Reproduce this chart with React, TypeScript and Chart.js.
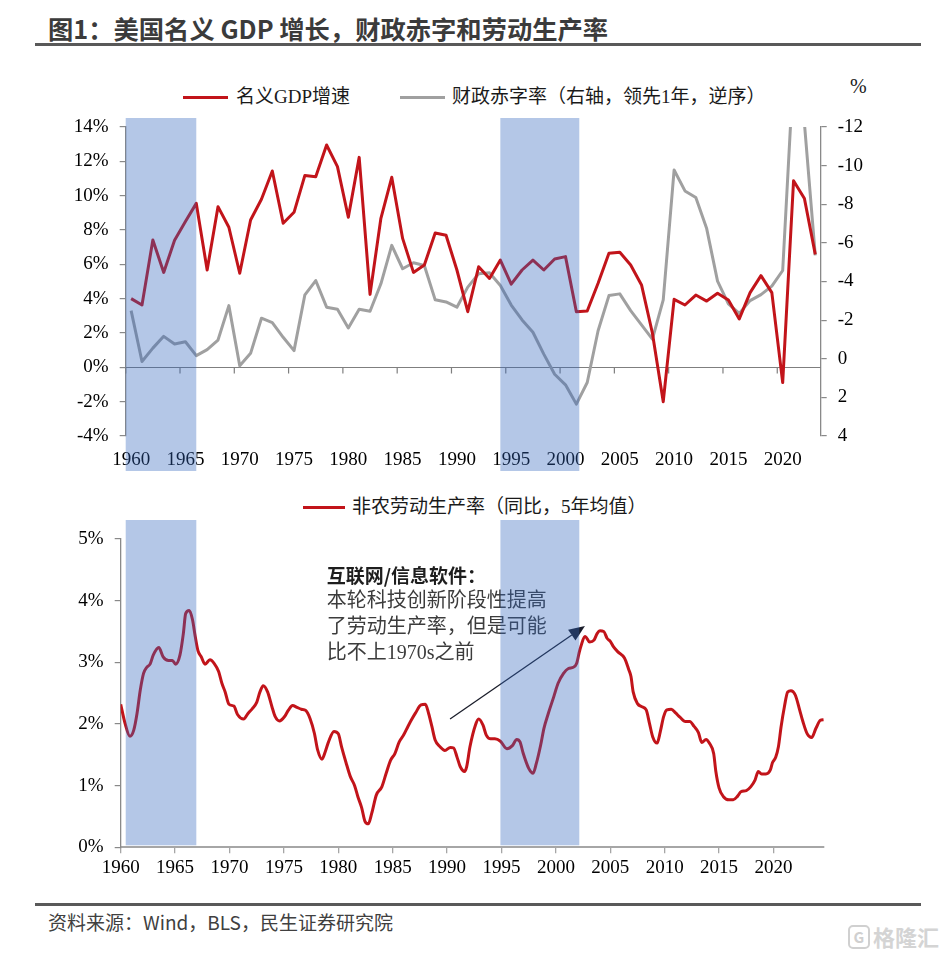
import React, { useEffect, useRef } from 'react';
import { Chart, registerables } from 'chart.js';

Chart.register(...registerables);

// ---------- data ----------
const years = [
  1960, 1961, 1962, 1963, 1964, 1965, 1966, 1967, 1968, 1969,
  1970, 1971, 1972, 1973, 1974, 1975, 1976, 1977, 1978, 1979,
  1980, 1981, 1982, 1983, 1984, 1985, 1986, 1987, 1988, 1989,
  1990, 1991, 1992, 1993, 1994, 1995, 1996, 1997, 1998, 1999,
  2000, 2001, 2002, 2003, 2004, 2005, 2006, 2007, 2008, 2009,
  2010, 2011, 2012, 2013, 2014, 2015, 2016, 2017, 2018, 2019,
  2020, 2021, 2022, 2023,
];

// 名义GDP增速 (%)
const nominalGdpGrowth = [
  4.0, 3.63, 7.42, 5.53, 7.4, 8.49, 9.55, 5.67, 9.36, 8.16,
  5.48, 8.58, 9.79, 11.44, 8.39, 9.03, 11.18, 11.1, 12.95, 11.69,
  8.74, 12.23, 4.25, 8.68, 11.07, 7.51, 5.53, 5.96, 7.83, 7.69,
  5.67, 3.24, 5.86, 5.18, 6.25, 4.85, 5.67, 6.25, 5.67, 6.31,
  6.45, 3.24, 3.28, 4.9, 6.64, 6.7, 5.96, 4.8, 2.0, -2.0,
  3.96, 3.63, 4.21, 3.86, 4.31, 3.92, 2.82, 4.35, 5.34, 4.35,
  -0.89, 10.87, 9.84, 6.58,
];

// 财政赤字率（右轴，领先1年，逆序）
const fiscalBalance = [
  -2.49, 0.14, -0.55, -1.16, -0.76, -0.88, -0.16, -0.47, -0.97, -2.75,
  0.36, -0.28, -2.1, -1.87, -1.11, -0.42, -3.31, -4.05, -2.67, -2.56,
  -1.59, -2.56, -2.46, -3.88, -5.87, -4.66, -4.97, -4.83, -3.05, -2.94,
  -2.67, -3.71, -4.4, -4.45, -3.79, -2.78, -2.01, -1.37, -0.24, 0.8,
  1.35, 2.35, 1.23, -1.45, -3.27, -3.36, -2.49, -1.75, -1.02, -3.05,
  -9.77, -8.69, -8.35, -6.74, -4.02, -2.84, -2.35, -3.01, -3.32, -3.76,
  -4.57, -15.0, -12.2, -5.35,
];

// 非农劳动生产率（同比，5年均值）
const prodDates = [
  1960.0, 1960.4, 1960.85, 1961.2, 1961.5, 1961.8, 1962.1, 1962.4, 1962.7, 1963.0,
  1963.5, 1963.9, 1964.4, 1964.75, 1965.05, 1965.45, 1965.76, 1965.97, 1966.3, 1966.6,
  1966.85, 1967.1, 1967.4, 1967.75, 1968.2, 1968.6, 1969.0, 1969.3, 1969.6, 1969.95,
  1970.4, 1970.75, 1971.3, 1971.7, 1972.1, 1972.5, 1972.8, 1973.1, 1973.5, 1973.9,
  1974.2, 1974.6, 1975.1, 1975.4, 1975.8, 1976.2, 1976.6, 1977.0, 1977.4, 1977.8,
  1978.1, 1978.5, 1978.8, 1979.1, 1979.6, 1980.0, 1980.3, 1980.7, 1981.1, 1981.5,
  1981.8, 1982.15, 1982.45, 1982.76, 1983.07, 1983.5, 1984.0, 1984.4, 1984.8, 1985.2,
  1985.6, 1986.0, 1986.4, 1986.7, 1987.1, 1987.6, 1988.0, 1988.3, 1988.6, 1988.9,
  1989.35, 1989.8, 1990.3, 1990.6, 1990.9, 1991.2, 1991.6, 1991.8, 1992.1, 1992.6,
  1992.9, 1993.3, 1993.6, 1994.0, 1994.4, 1994.9, 1995.5, 1996.0, 1996.4, 1996.7,
  1997.0, 1997.5, 1997.9, 1998.2, 1998.6, 1998.9, 1999.3, 1999.8, 2000.2, 2000.7,
  2001.15, 2001.6, 2001.9, 2002.2, 2002.7, 2003.1, 2003.5, 2003.8, 2004.05, 2004.4,
  2004.7, 2005.0, 2005.3, 2005.7, 2006.3, 2006.7, 2006.9, 2007.1, 2007.5, 2007.9,
  2008.3, 2008.6, 2008.9, 2009.3, 2009.6, 2009.9, 2010.2, 2010.6, 2011.0, 2011.4,
  2011.9, 2012.3, 2012.7, 2013.1, 2013.4, 2013.8, 2014.1, 2014.5, 2014.7, 2015.0,
  2015.4, 2015.9, 2016.3, 2016.7, 2017.0, 2017.5, 2017.9, 2018.3, 2018.6, 2018.9,
  2019.3, 2019.7, 2019.9, 2020.2, 2020.45, 2020.7, 2021.0, 2021.3, 2021.6, 2022.0,
  2022.4, 2022.7, 2023.1, 2023.5, 2023.9, 2024.3, 2024.6,
];
const prodValues = [
  2.32, 2.01, 1.8, 1.9, 2.17, 2.55, 2.82, 2.92, 2.97, 3.12,
  3.24, 3.09, 3.03, 3.03, 2.97, 3.12, 3.47, 3.79, 3.84, 3.69,
  3.42, 3.19, 3.09, 2.97, 3.04, 2.98, 2.85, 2.66, 2.52, 2.32,
  2.29, 2.15, 2.08, 2.17, 2.25, 2.35, 2.52, 2.62, 2.52, 2.28,
  2.12, 2.05, 2.13, 2.22, 2.3, 2.27, 2.24, 2.22, 2.09, 1.85,
  1.58, 1.43, 1.55, 1.71, 1.88, 1.84, 1.63, 1.38, 1.15, 1.0,
  0.82, 0.64, 0.42, 0.38, 0.55, 0.85, 0.98, 1.2, 1.41, 1.52,
  1.71, 1.82, 1.96, 2.06, 2.18, 2.31, 2.32, 2.17, 1.96, 1.74,
  1.63, 1.57, 1.62, 1.61, 1.47, 1.31, 1.23, 1.31, 1.63, 1.98,
  2.08, 1.98, 1.82, 1.76, 1.76, 1.72, 1.6, 1.65, 1.75, 1.71,
  1.52, 1.28, 1.2, 1.36, 1.66, 1.93, 2.17, 2.44, 2.66, 2.82,
  2.9, 2.92, 2.98, 3.2, 3.42, 3.33, 3.36, 3.47, 3.51, 3.5,
  3.39, 3.34, 3.25, 3.17, 3.07, 2.88, 2.77, 2.52, 2.33, 2.28,
  2.23, 2.01, 1.79, 1.69, 1.88, 2.12, 2.23, 2.24, 2.18, 2.11,
  2.04, 2.04, 1.96, 1.86, 1.7, 1.75, 1.69, 1.52, 1.23, 0.96,
  0.82, 0.77, 0.77, 0.83, 0.9, 0.92, 0.98, 1.09, 1.23, 1.19,
  1.19, 1.25, 1.37, 1.46, 1.63, 1.96, 2.28, 2.52, 2.54, 2.47,
  2.23, 2.04, 1.84, 1.78, 1.93, 2.06, 2.07,
];

const xTickYears = [1960, 1965, 1970, 1975, 1980, 1985, 1990, 1995, 2000, 2005, 2010, 2015, 2020];

// shaded periods (technology waves)
const topBands = [[1959.5, 1966.0], [1994.0, 2001.27]];
const bottomBands = [[1960.46, 1966.95], [1994.9, 2002.15]];

const annotationLines = ['本轮科技创新阶段性提高', '了劳动生产率，但是可能', '比不上1970s之前'];
const annotationTitle = '互联网/信息软件：';
const annotationAt = { x: 1978.93, y: 4.4 };
const arrowFrom = { x: 1990.27, y: 2.08 };
const arrowTo = { x: 2002.67, y: 3.59 };

// ---------- styles ----------
const RED = '#C2141A';
const GRAY = '#A0A0A0';
const AXIS = '#898989';
const BAND = 'rgba(49,101,189,0.365)';
const SERIF = "'Liberation Serif', 'Noto Sans CJK SC', serif";
const CJK = "'Noto Sans CJK SC', 'Noto Sans', sans-serif";
const tickFont = { family: SERIF, size: 19 };

const bandPlugin = (id: string, bands: number[][], topExtra: number, bottomExtra: number) => ({
  id,
  afterDraw(chart: any) {
    const { ctx, chartArea, scales } = chart;
    const xs = scales.x;
    ctx.save();
    ctx.fillStyle = BAND;
    const top = chartArea.top - topExtra;
    const bottom = chartArea.bottom + bottomExtra;
    for (const [a, b] of bands) {
      const x1 = xs.getPixelForValue(a);
      const x2 = xs.getPixelForValue(b);
      ctx.fillRect(x1, top, x2 - x1, bottom - top);
    }
    ctx.restore();
  },
});

const zeroLinePlugin = {
  id: 'zeroLine',
  beforeDatasetsDraw(chart: any) {
    const { ctx, chartArea, scales } = chart;
    const y0 = Math.round(scales.y.getPixelForValue(0)) + 0.5;
    ctx.save();
    ctx.strokeStyle = '#7F7F7F';
    ctx.lineWidth = 1.2;
    ctx.beginPath();
    ctx.moveTo(chartArea.left, y0);
    ctx.lineTo(chartArea.right, y0);
    for (const t of xTickYears) {
      const x = scales.x.getPixelForValue(t - 0.5);
      ctx.moveTo(x, y0);
      ctx.lineTo(x, y0 + 6);
    }
    ctx.stroke();
    ctx.restore();
  },
};

const annotationPlugin = {
  id: 'annot',
  afterDatasetsDraw(chart: any) {
    const { ctx, scales } = chart;
    const xs = scales.x;
    const ys = scales.y;
    ctx.save();
    const tx = xs.getPixelForValue(annotationAt.x);
    const ty = ys.getPixelForValue(annotationAt.y);
    ctx.textBaseline = 'middle';
    ctx.textAlign = 'left';
    ctx.fillStyle = '#1E1E1E';
    ctx.font = `bold 19px ${CJK}`;
    ctx.fillText(annotationTitle, tx, ty);
    ctx.fillStyle = '#3C3C3C';
    ctx.font = `20px ${SERIF}`;
    annotationLines.forEach((l, i) => ctx.fillText(l, tx, ty + 26 * (i + 1)));
    // arrow
    const x1 = xs.getPixelForValue(arrowFrom.x);
    const y1 = ys.getPixelForValue(arrowFrom.y);
    const x2 = xs.getPixelForValue(arrowTo.x);
    const y2 = ys.getPixelForValue(arrowTo.y);
    const ang = Math.atan2(y2 - y1, x2 - x1);
    const hl = 16;
    const hw = 6.5;
    const bx = x2 - hl * Math.cos(ang);
    const by = y2 - hl * Math.sin(ang);
    ctx.strokeStyle = '#1A1D2A';
    ctx.lineWidth = 1.3;
    ctx.beginPath();
    ctx.moveTo(x1, y1);
    ctx.lineTo(bx, by);
    ctx.stroke();
    ctx.fillStyle = '#1A1D2A';
    ctx.beginPath();
    ctx.moveTo(x2, y2);
    ctx.lineTo(bx + hw * Math.sin(ang), by - hw * Math.cos(ang));
    ctx.lineTo(bx - hw * Math.sin(ang), by + hw * Math.cos(ang));
    ctx.closePath();
    ctx.fill();
    ctx.restore();
  },
};

const abs = (o: any) => ({ position: 'absolute' as const, margin: 0, whiteSpace: 'nowrap' as const, ...o });

export default function App() {
  const topRef = useRef<HTMLCanvasElement>(null);
  const botRef = useRef<HTMLCanvasElement>(null);

  useEffect(() => {
    const topChart = new Chart(topRef.current as HTMLCanvasElement, {
      type: 'line',
      data: {
        datasets: [
          {
            label: '名义GDP增速',
            data: years.map((y, i) => ({ x: y, y: nominalGdpGrowth[i] })),
            borderColor: RED,
            borderWidth: 3,
            pointRadius: 0,
            tension: 0,
            yAxisID: 'y',
            borderJoinStyle: 'round',
          },
          {
            label: '财政赤字率（右轴，领先1年，逆序）',
            data: years.map((y, i) => ({ x: y, y: fiscalBalance[i] })),
            borderColor: GRAY,
            borderWidth: 3,
            pointRadius: 0,
            tension: 0,
            yAxisID: 'y2',
            borderJoinStyle: 'round',
          },
        ],
      },
      options: {
        animation: false,
        responsive: false,
        devicePixelRatio: 1,
        layout: { padding: { top: 27, left: 0, right: 0, bottom: 0 } },
        plugins: { legend: { display: false }, tooltip: { enabled: false } },
        scales: {
          x: {
            type: 'linear',
            min: 1959.5,
            max: 2023.5,
            afterBuildTicks: (s: any) => { s.ticks = xTickYears.map((v) => ({ value: v })); },
            afterFit: (s: any) => { s.height = 44; },
            grid: { display: false, drawTicks: false },
            border: { display: false },
            ticks: { padding: 13, font: tickFont, color: '#000', maxRotation: 0, autoSkip: false, callback: (v: any) => String(v) },
          },
          y: {
            position: 'left',
            min: -4,
            max: 14,
            afterFit: (s: any) => { s.width = 125.7; },
            grid: { drawOnChartArea: false, tickLength: 6, color: AXIS, lineWidth: 1.2 },
            border: { color: AXIS, width: 1.3 },
            ticks: { stepSize: 2, padding: 11, font: tickFont, color: '#000', callback: (v: any) => `${v}%` },
          },
          y2: {
            position: 'right',
            reverse: true,
            min: -12,
            max: 4,
            afterFit: (s: any) => { s.width = 123.3; },
            grid: { drawOnChartArea: false, tickLength: 6, color: AXIS, lineWidth: 1.2 },
            border: { color: AXIS, width: 1.3 },
            ticks: { stepSize: 2, padding: 11, font: tickFont, color: '#000', callback: (v: any) => String(v) },
          },
        },
      },
      plugins: [zeroLinePlugin, bandPlugin('topBands', topBands, 9, 35)],
    } as any);

    const botChart = new Chart(botRef.current as HTMLCanvasElement, {
      type: 'line',
      data: {
        datasets: [
          {
            label: '非农劳动生产率（同比，5年均值）',
            data: prodDates.map((d, i) => ({ x: d, y: prodValues[i] })),
            borderColor: RED,
            borderWidth: 3,
            pointRadius: 0,
            cubicInterpolationMode: 'monotone',
            borderJoinStyle: 'round',
          },
        ],
      },
      options: {
        animation: false,
        responsive: false,
        devicePixelRatio: 1,
        layout: { padding: { top: 39, left: 0, right: 120, bottom: 0 } },
        plugins: { legend: { display: false }, tooltip: { enabled: false } },
        scales: {
          x: {
            type: 'linear',
            min: 1960,
            max: 2024.64,
            afterBuildTicks: (s: any) => { s.ticks = xTickYears.map((v) => ({ value: v })); },
            afterFit: (s: any) => { s.height = 52.7; },
            grid: { display: true, drawOnChartArea: false, drawTicks: true, tickLength: 6, color: '#A6A6A6', lineWidth: 1.3 },
            border: { color: '#A6A6A6', width: 2 },
            ticks: { padding: 3, font: tickFont, color: '#000', maxRotation: 0, autoSkip: false, callback: (v: any) => String(v) },
          },
          y: {
            min: 0,
            max: 5,
            afterFit: (s: any) => { s.width = 120.7; },
            grid: { drawOnChartArea: false, tickLength: 6, color: AXIS, lineWidth: 1.2 },
            border: { color: AXIS, width: 1.3 },
            ticks: { stepSize: 1, padding: 11, font: tickFont, color: '#000', callback: (v: any) => `${v}%` },
          },
        },
      },
      plugins: [annotationPlugin, bandPlugin('botBands', bottomBands, 19, -2)],
    } as any);

    return () => {
      topChart.destroy();
      botChart.destroy();
    };
  }, []);

  const legendText = { fontFamily: SERIF, fontSize: 19, lineHeight: '24px', color: '#1a1a1a' };

  return (
    <div style={{ position: 'absolute', left: 0, top: 0, width: 944, height: 955, background: '#fff', overflow: 'hidden' }}>
      <div style={abs({ left: 48, top: 12, fontFamily: CJK, fontWeight: 700, fontSize: 25.3, lineHeight: '32px', color: '#3B3B3B' })}>
        图1：美国名义 GDP 增长，财政赤字和劳动生产率
      </div>
      <div style={abs({ left: 35, top: 43, width: 886, height: 3, background: '#595959' })} />

      {/* top legend */}
      <div style={abs({ left: 183, top: 96, width: 45, height: 3, background: RED })} />
      <div style={abs({ left: 236, top: 85, ...legendText })}>名义GDP增速</div>
      <div style={abs({ left: 400, top: 96, width: 45, height: 3, background: GRAY })} />
      <div style={abs({ left: 452, top: 85, ...legendText })}>财政赤字率（右轴，领先1年，逆序）</div>
      <div style={abs({ left: 850, top: 74, fontFamily: SERIF, fontSize: 20, lineHeight: '24px', color: '#1a1a1a' })}>%</div>

      <canvas ref={topRef} width={944} height={380} style={{ position: 'absolute', left: 0, top: 100, width: 944, height: 380 }} />

      {/* bottom legend */}
      <div style={abs({ left: 303, top: 506, width: 42, height: 3, background: RED })} />
      <div style={abs({ left: 352, top: 495, ...legendText })}>非农劳动生产率（同比，5年均值）</div>

      <canvas ref={botRef} width={944} height={400} style={{ position: 'absolute', left: 0, top: 500, width: 944, height: 400 }} />

      <div style={abs({ left: 35, top: 903, width: 886, height: 3, background: '#595959' })} />
      <div style={abs({ left: 48, top: 908, fontFamily: CJK, fontSize: 19, lineHeight: '28px', color: '#404040' })}>
        资料来源：Wind，BLS，民生证券研究院
      </div>
      <div style={abs({ left: 848, top: 925, width: 22, height: 24, border: '2px solid #D0D0D0', borderRadius: 5, boxSizing: 'border-box', fontFamily: CJK, fontSize: 15, lineHeight: '20px', textAlign: 'center', color: '#D0D0D0', fontWeight: 700 })}>G</div>
      <div style={abs({ left: 873, top: 921, fontFamily: CJK, fontSize: 22, lineHeight: '30px', color: '#D4D4D4', fontWeight: 700 })}>格隆汇</div>
    </div>
  );
}
